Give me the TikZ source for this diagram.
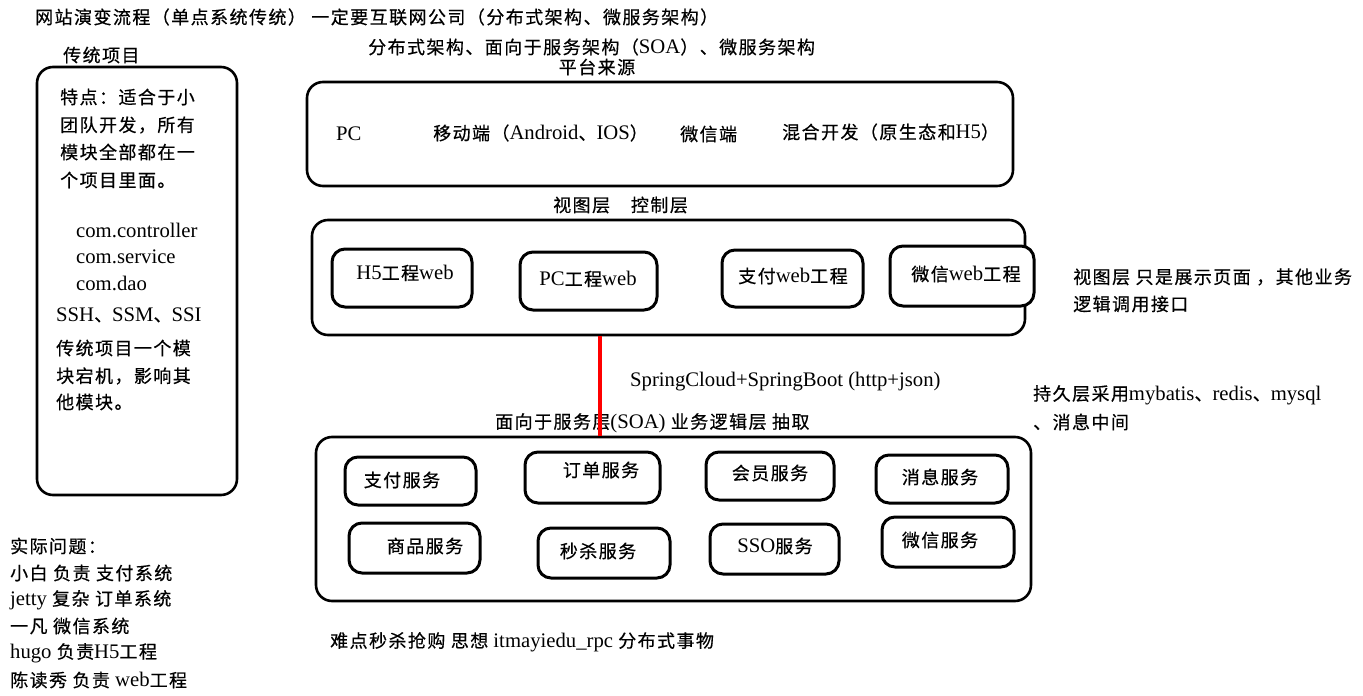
\documentclass[tikz,border=0pt]{standalone}
\usepackage{fontspec}
\setmainfont{Liberation Serif}[Scale=1.15]
\newfontfamily\cjk{Noto Sans CJK SC}[LetterSpace=8,FakeBold=0.5]
\newcommand\C[1]{{\cjk #1}}
\begin{document}
\begin{tikzpicture}[x=1pt,y=-1pt,
  txt/.style={anchor=west, inner sep=0pt, font=\fontsize{18}{20}\selectfont},
  ctxt/.style={anchor=center, inner sep=0pt, font=\fontsize{18}{20}\selectfont},
  bigbox/.style={draw, line width=2.6pt, rounded corners=16pt, inner sep=0pt},
  smallbox/.style={draw, line width=3pt, rounded corners=13pt, fill=white, inner sep=0pt},
  redline/.style={draw=red, line width=3.5pt}]
\useasboundingbox (0,0) rectangle (1363,696);
% titles
\node[txt] (t1) at (35,17) {\C{网站演变流程（单点系统传统） 一定要互联网公司（分布式架构、微服务架构）}};
\node[txt] (t2) at (368,47) {\C{分布式架构、面向于服务架构（}SOA\C{）、微服务架构}};
\node[ctxt] (t3) at (597,67) {\C{平台来源}};
\node[txt] (t4) at (63,55) {\C{传统项目}};
% left box
\node[bigbox, minimum width=200pt, minimum height=428pt] (trad) at (137,281) {};
\node[txt] (l1) at (60,97) {\C{特点：适合于小}};
\node[txt] (l2) at (60,125) {\C{团队开发，所有}};
\node[txt] (l3) at (60,152) {\C{模块全部都在一}};
\node[txt] (l4) at (60,180) {\C{个项目里面。}};
\node[txt] (l5) at (76,230) {com.controller};
\node[txt] (l6) at (76,257) {com.service};
\node[txt] (l7) at (76,283) {com.dao};
\node[txt] (l8) at (56,315) {SSH\C{、}SSM\C{、}SSI};
\node[txt] (l9) at (56,348) {\C{传统项目一个模}};
\node[txt] (l10) at (56,376) {\C{块宕机，影响其}};
\node[txt] (l11) at (56,402) {\C{他模块。}};
% platform box
\node[bigbox, minimum width=706pt, minimum height=104pt] (plat) at (660,134) {};
\node[txt] (p1) at (336,134) {PC};
\node[txt] (p2) at (433,133) {\C{移动端（}Android\C{、}IOS\C{）}};
\node[txt] (p3) at (680,134) {\C{微信端}};
\node[txt] (p4) at (782,132) {\C{混合开发（原生态和}H5\C{）}};
% view layer
\node[txt] (v0) at (553,205) {\C{视图层　控制层}};
\node[bigbox, minimum width=713pt, minimum height=115pt] (view) at (668.5,277.5) {};
\node[smallbox, minimum width=140pt, minimum height=58pt] (w1) at (402,278) {};
\node[ctxt] (w1t) at (405,273) {H5\C{工程}web};
\node[smallbox, minimum width=137pt, minimum height=58pt] (w2) at (588.5,281) {};
\node[ctxt] (w2t) at (588,279) {PC\C{工程}web};
\node[smallbox, minimum width=141pt, minimum height=57pt] (w3) at (792.5,278.5) {};
\node[ctxt] (w3t) at (793,276) {\C{支付}web\C{工程}};
\node[smallbox, minimum width=144pt, minimum height=60pt] (w4) at (962,276) {};
\node[ctxt] (w4t) at (966,274) {\C{微信}web\C{工程}};
\node[txt] (r1) at (1073,277) {\C{视图层 只是展示页面 ，其他业务}};
\node[txt] (r2) at (1073,304) {\C{逻辑调用接口}};
% connection
\node[txt] (sc) at (630,382) {SpringCloud+SpringBoot (http+json)};
\node[txt] (soat) at (495,423) {\C{面向于服务层}(SOA) \C{业务逻辑层 抽取}};
\node[txt] (r3) at (1033,395) {\C{持久层采用}mybatis\C{、}redis\C{、}mysql};
\node[txt] (r4) at (1033,422) {\C{、消息中间}};
% service box
\node[bigbox, minimum width=715pt, minimum height=164pt] (soa) at (673.5,519) {};
\coordinate (x600) at (600,380);
\draw[redline] (view.south -| x600) -- (soa.north -| x600);
\node[smallbox, minimum width=131pt, minimum height=48pt] (s1) at (410.5,481) {};
\node[ctxt] (s1t) at (402,480) {\C{支付服务}};
\node[smallbox, minimum width=135pt, minimum height=51pt] (s2) at (592.5,477.5) {};
\node[ctxt] (s2t) at (601,470) {\C{订单服务}};
\node[smallbox, minimum width=128pt, minimum height=48pt] (s3) at (770,476) {};
\node[ctxt] (s3t) at (770,473) {\C{会员服务}};
\node[smallbox, minimum width=132pt, minimum height=48pt] (s4) at (942,479) {};
\node[ctxt] (s4t) at (940,477) {\C{消息服务}};
\node[smallbox, minimum width=131pt, minimum height=50pt] (s5) at (414.5,548) {};
\node[ctxt] (s5t) at (425,546) {\C{商品服务}};
\node[smallbox, minimum width=132pt, minimum height=50pt] (s6) at (604,553) {};
\node[ctxt] (s6t) at (598,551) {\C{秒杀服务}};
\node[smallbox, minimum width=129pt, minimum height=50pt] (s7) at (774.5,549) {};
\node[ctxt] (s7t) at (775,546) {SSO\C{服务}};
\node[smallbox, minimum width=132pt, minimum height=50pt] (s8) at (948,542) {};
\node[ctxt] (s8t) at (940,540) {\C{微信服务}};
% bottom
\node[txt] (b0) at (330,642) {\C{难点秒杀抢购 思想} itmayiedu\_rpc \C{分布式事物}};
\node[txt] (q0) at (10,546) {\C{实际问题：}};
\node[txt] (q1) at (10,573) {\C{小白 负责 支付系统}};
\node[txt] (q2) at (10,600) {jetty \C{复杂 订单系统}};
\node[txt] (q3) at (10,626) {\C{一凡 微信系统}};
\node[txt] (q4) at (10,653) {hugo \C{负责}H5\C{工程}};
\node[txt] (q5) at (10,680) {\C{陈读秀 负责} web\C{工程}};
\end{tikzpicture}
\end{document}
